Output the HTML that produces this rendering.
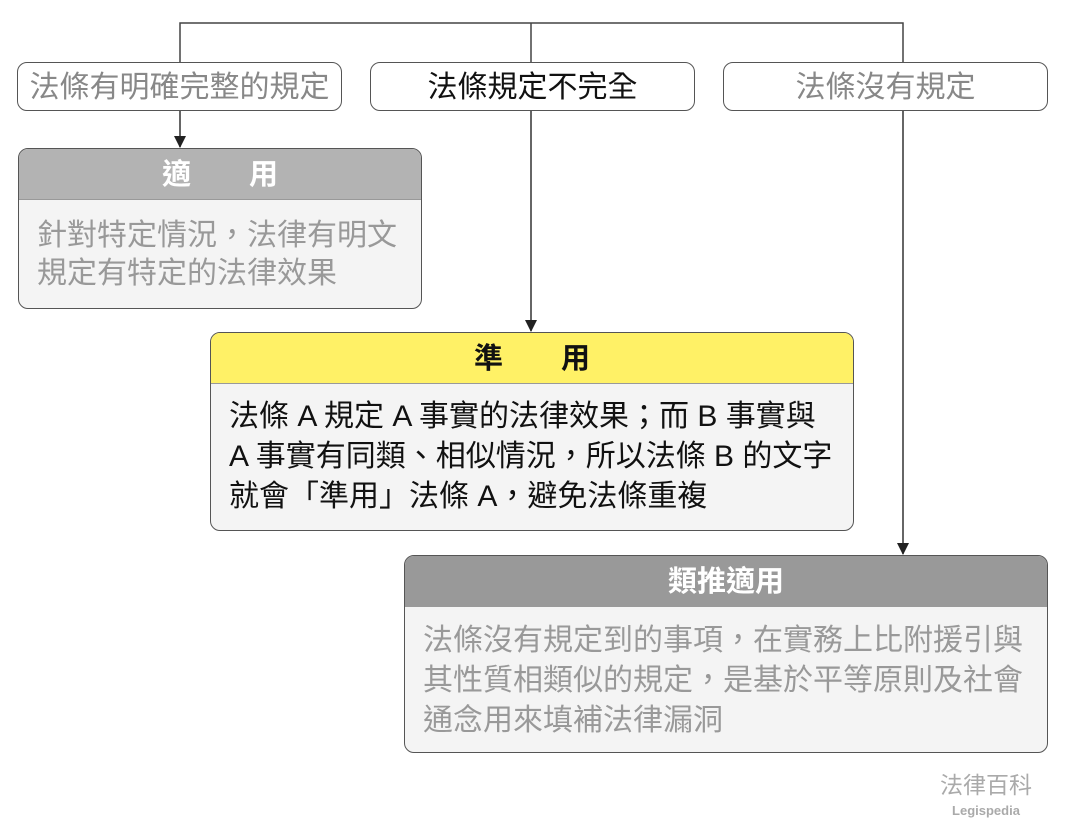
<!DOCTYPE html>
<html><head><meta charset="utf-8"><style>
body{margin:0;width:1065px;height:838px;background:#fff;position:relative;overflow:hidden;font-family:"Liberation Sans","Noto Sans CJK TC",sans-serif}
.b{position:absolute;box-sizing:border-box;border:1.5px solid #555;border-radius:10px;background:#fff;font-size:30px;text-align:center;line-height:50px;white-space:nowrap}
.c{position:absolute;box-sizing:border-box;border:1.5px solid #555;border-radius:10px;overflow:hidden;background:#f4f4f4}
.h{height:50px;line-height:53px;text-align:center;font-size:29px;font-weight:bold;border-bottom:1px solid #999}
.t{font-size:30px;line-height:40px;padding:8px 0 0 18px;white-space:nowrap}
</style></head><body>
<svg width="1065" height="838" style="position:absolute;left:0;top:0">
<defs><marker id="a" markerWidth="12" markerHeight="12" refX="11" refY="6" orient="auto" markerUnits="userSpaceOnUse"><path d="M0,0L12,6L0,12z" fill="#222"/></marker></defs>
<path d="M180,62V23H903V62M531,23V62" stroke="#444" stroke-width="1.5" fill="none"/>
<line x1="180" y1="110" x2="180" y2="147" stroke="#333" stroke-width="1.5" marker-end="url(#a)"/>
<line x1="531" y1="110" x2="531" y2="331" stroke="#333" stroke-width="1.5" marker-end="url(#a)"/>
<line x1="903" y1="110" x2="903" y2="554" stroke="#333" stroke-width="1.5" marker-end="url(#a)"/>
</svg>
<div class="b" style="left:17px;top:62px;width:325px;height:49px;color:#888">法條有明確完整的規定</div>
<div class="b" style="left:370px;top:62px;width:325px;height:49px;color:#111">法條規定不完全</div>
<div class="b" style="left:723px;top:62px;width:325px;height:49px;color:#888">法條沒有規定</div>
<div class="c" style="left:18px;top:148px;width:404px;height:161px">
<div class="h" style="background:#b3b3b3;color:#fff">適　　用</div>
<div class="t" style="color:#999;line-height:38px;padding-top:17px">針對特定情況，法律有明文<br>規定有特定的法律效果</div></div>
<div class="c" style="left:210px;top:332px;width:644px;height:199px">
<div class="h" style="background:#fff166;color:#111">準　　用</div>
<div class="t" style="color:#111;line-height:40px;padding-top:13px">法條 A 規定 A 事實的法律效果；而 B 事實與<br>A 事實有同類、相似情況，所以法條 B 的文字<br>就會「準用」法條 A，避免法條重複</div></div>
<div class="c" style="left:404px;top:555px;width:644px;height:198px">
<div class="h" style="background:#999;color:#fff">類推適用</div>
<div class="t" style="color:#999;padding-top:14px">法條沒有規定到的事項，在實務上比附援引與<br>其性質相類似的規定，是基於平等原則及社會<br>通念用來填補法律漏洞</div></div>
<div style="position:absolute;left:930px;top:770px;width:112px;text-align:center;color:#aaa;font-size:23px;line-height:30px">法律百科</div>
<div style="position:absolute;left:930px;top:802px;width:112px;text-align:center;color:#aaa;font-size:13px;font-weight:bold;line-height:18px">Legispedia</div>
</body></html>
